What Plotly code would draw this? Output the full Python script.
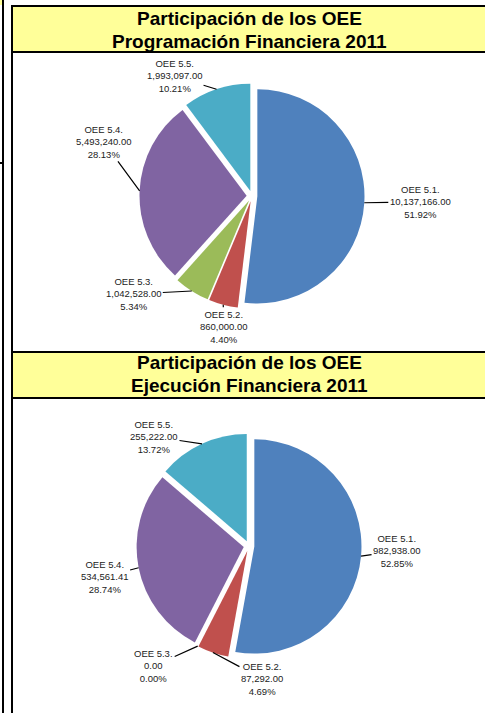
import math
import plotly.graph_objects as go

W, H = 485, 713

# Data
categorias = ["OEE 5.1.", "OEE 5.2.", "OEE 5.3.", "OEE 5.4.", "OEE 5.5."]
programacion = [10137166.00, 860000.00, 1042528.00, 5493240.00, 1993097.00]
ejecucion = [982938.00, 87292.00, 0.00, 534561.41, 255222.00]
colores = ["#4F81BD", "#C0504D", "#9BBB59", "#8064A2", "#4BACC6"]

titulo_prog = ["Participación de los OEE", "Programación Financiera 2011"]
titulo_ejec = ["Participación de los OEE", "Ejecución Financiera 2011"]

PULL = 0.05
BOX = 225  # pie domain box size in px

# label offsets (text centre relative to slice edge), px
offs_prog = [(56, -1), (1, 22), (-58, 3), (-36, -49), (-42, -13)]
offs_ejec = [(36, -5), (49, 26), (-44, 20), (-34, 9), (-48, -7)]


def px(x):
    return x / W


def py(y):
    return 1 - y / H


def fmt_num(v):
    return f"{v:,.2f}"


fig = go.Figure()
annotations = []
shapes = []


def add_pie(values, cx, cy, offs):
    dom_x = [px(cx - BOX / 2), px(cx + BOX / 2)]
    dom_y = [py(cy + BOX / 2), py(cy - BOX / 2)]
    fig.add_trace(go.Pie(
        labels=categorias, values=values, sort=False, direction="clockwise",
        rotation=0, pull=[PULL] * len(values), textinfo="none",
        hoverinfo="label+value+percent",
        marker=dict(colors=colores, line=dict(color="white", width=0)),
        domain=dict(x=dom_x, y=dom_y), showlegend=False,
    ))
    total = sum(values)
    r = BOX / 2 / (1 + PULL)
    acc = 0
    for i, v in enumerate(values):
        mid = (acc + v / 2) / total
        acc += v
        th = 2 * math.pi * mid
        ex = cx + r * (1 + PULL) * math.sin(th)
        ey = cy - r * (1 + PULL) * math.cos(th)
        pct = 100 * v / total
        annotations.append(dict(
            x=px(ex), y=py(ey), xref="paper", yref="paper",
            text=f"{categorias[i]}<br>{fmt_num(v)}<br>{pct:.2f}%",
            showarrow=True, arrowhead=0, arrowwidth=1.2, arrowcolor="black",
            ax=offs[i][0], ay=offs[i][1], standoff=0,
            font=dict(family="Liberation Sans", size=9.5, color="#222"),
            align="center",
        ))


def add_title(lines, ys):
    for t, y in zip(lines, ys):
        annotations.append(dict(
            x=px(250), y=py(y), xref="paper", yref="paper", text=f"<b>{t}</b>",
            showarrow=False, xanchor="center", yanchor="middle",
            font=dict(family="Liberation Sans", size=19, color="black"),
        ))


def rect(x0, y0, x1, y1, fill=None, line_w=0):
    shapes.append(dict(
        type="rect", xref="paper", yref="paper",
        x0=px(x0), x1=px(x1), y0=py(y1), y1=py(y0),
        fillcolor=fill or "rgba(0,0,0,0)",
        line=dict(color="black", width=line_w), layer="below",
    ))


# spreadsheet frame
rect(0, 0, 2, 5, fill="#FFFF99")
rect(12, 6, W + 5, 52, fill="#FFFF99")
rect(12, 352, W + 5, 398, fill="#FFFF99")
rect(2, 0, 4, H, fill="black")
rect(11, 5, 13, H, fill="black")
rect(11, 5, W, 7, fill="black")
rect(11, 51, W, 53, fill="black")
rect(11, 351, W, 353, fill="black")
rect(11, 397, W, 399, fill="black")
rect(0, 162, 2, 164, fill="black")

add_title(titulo_prog, [19, 41])
add_title(titulo_ejec, [363, 385])

add_pie(programacion, 252, 196, offs_prog)
add_pie(ejecucion, 249, 546, offs_ejec)

fig.update_layout(
    width=W, height=H, margin=dict(l=0, r=0, t=0, b=0),
    paper_bgcolor="white", plot_bgcolor="white",
    annotations=annotations, shapes=shapes, showlegend=False,
)

# page body has a default 8px margin; remove it so the figure fills the window
fig.write_html("out.html", config={"displayModeBar": False},
               post_script="document.body.style.margin='0';")
